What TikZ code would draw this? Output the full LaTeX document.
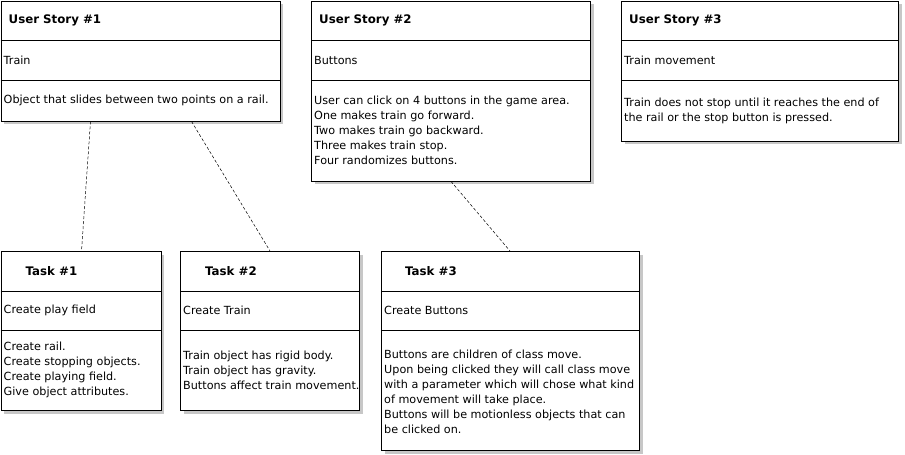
\documentclass[tikz,border=0pt]{standalone}
\usepackage{fontspec}
\setmainfont{DejaVu Sans}
\usepackage{tikz}
\usetikzlibrary{calc,shadows}

\begin{document}
\begin{tikzpicture}[x=1pt,y=-1pt]
\tikzset{
    card/.style={draw, fill=white, line width=0.9pt, anchor=north west, inner sep=0pt,
        drop shadow={shadow xshift=3.5pt, shadow yshift=-3.5pt, fill=black!22, opacity=1}},
    sep/.style={line width=0.9pt},
    title/.style={anchor=west, inner sep=0pt, font=\fontsize{11.8}{15}\selectfont\bfseries},
    txt/.style={anchor=west, inner sep=0pt, align=left, font=\fontsize{11.2}{15}\selectfont},
    link/.style={line width=0.5pt, dash pattern=on 3pt off 2pt}
}
\useasboundingbox (0,0) rectangle (905,455);

% User stories
\node[card, minimum width=279pt, minimum height=120pt] (us1) at (0.5,0.5){};
\node[card, minimum width=279pt, minimum height=180pt] (us2) at (311,0.5){};
\node[card, minimum width=277pt, minimum height=140pt] (us3) at (621,0.5){};

% Tasks
\node[card, minimum width=160pt, minimum height=159pt] (t1) at (0.5,251){};
\node[card, minimum width=179pt, minimum height=159pt] (t2) at (180,251){};
\node[card, minimum width=258pt, minimum height=199pt] (t3) at (381,251){};

% Compartments
\foreach \n in {us1,us2,us3}{
    \draw[sep] ([yshift=-40pt]\n.north west) -- ([yshift=-40pt]\n.north east);
    \draw[sep] ([yshift=-80pt]\n.north west) -- ([yshift=-80pt]\n.north east);
}
\foreach \n in {t1,t2,t3}{
    \draw[sep] ([yshift=-40pt]\n.north west) -- ([yshift=-40pt]\n.north east);
    \draw[sep] ([yshift=-79pt]\n.north west) -- ([yshift=-79pt]\n.north east);
}

% Texts
\node[title] (us1h) at ([shift={(8pt,-20pt)}]us1.north west){User Story \#1};
\node[txt] (us1n) at ([shift={(3pt,-60pt)}]us1.north west){Train};
\node[txt] (us1b) at ([shift={(3pt,-100pt)}]us1.north west){Object that slides between two points on a rail.};

\node[title] (us2h) at ([shift={(8pt,-20pt)}]us2.north west){User Story \#2};
\node[txt] (us2n) at ([shift={(3pt,-60pt)}]us2.north west){Buttons};
\node[txt] (us2b) at ([shift={(3pt,-130pt)}]us2.north west){User can click on 4 buttons in the game area.\\
One makes train go forward.\\Two makes train go backward.\\Three makes train stop.\\Four randomizes buttons.};

\node[title] (us3h) at ([shift={(8pt,-20pt)}]us3.north west){User Story \#3};
\node[txt] (us3n) at ([shift={(3pt,-60pt)}]us3.north west){Train movement};
\node[txt] (us3b) at ([shift={(3pt,-110pt)}]us3.north west){Train does not stop until it reaches the end of\\
the rail or the stop button is pressed.};

\node[title] (t1h) at ([shift={(25pt,-20pt)}]t1.north west){Task \#1};
\node[txt] (t1n) at ([shift={(3pt,-59pt)}]t1.north west){Create play field};
\node[txt] (t1b) at ([shift={(3pt,-119pt)}]t1.north west){Create rail.\\Create stopping objects.\\
Create playing field.\\Give object attributes.};

\node[title] (t2h) at ([shift={(25pt,-20pt)}]t2.north west){Task \#2};
\node[txt] (t2n) at ([shift={(3pt,-59pt)}]t2.north west){Create Train};
\node[txt] (t2b) at ([shift={(3pt,-119pt)}]t2.north west){Train object has rigid body.\\
Train object has gravity.\\Buttons affect train movement.};

\node[title] (t3h) at ([shift={(24pt,-20pt)}]t3.north west){Task \#3};
\node[txt] (t3n) at ([shift={(3pt,-59pt)}]t3.north west){Create Buttons};
\node[txt] (t3b) at ([shift={(3pt,-141pt)}]t3.north west){Buttons are children of class move.\\
Upon being clicked they will call class move\\with a parameter which will chose what kind\\
of movement will take place.\\Buttons will be motionless objects that can\\be clicked on.};

% Links
\draw[link] ([xshift=90pt]us1.south west) -- ([xshift=81pt]t1.north west);
\draw[link] ([xshift=191pt]us1.south west) -- ([xshift=90pt]t2.north west);
\draw[link] ([xshift=140pt]us2.south west) -- ([xshift=129pt]t3.north west);

\end{tikzpicture}
\end{document}
